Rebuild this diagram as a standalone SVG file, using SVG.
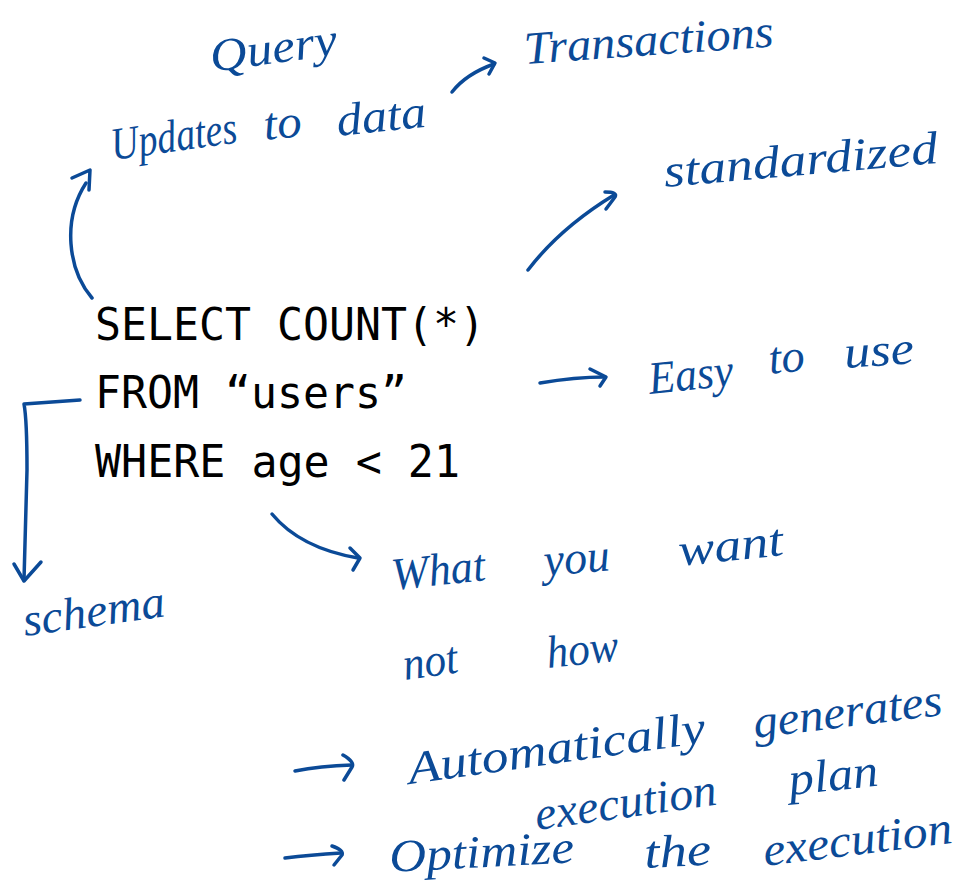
<svg xmlns="http://www.w3.org/2000/svg" width="965" height="896" viewBox="0 0 965 896">
  <style>
    .code { font-family: "DejaVu Sans Mono", "Liberation Mono", monospace; font-size: 44px; fill: #000; }
    .hand { font-family: "Liberation Serif", "DejaVu Serif", serif; font-style: italic; font-size: 46px; fill: #0b4a97; }
    .ink { fill: none; stroke: #0b4a97; stroke-width: 3.5; stroke-linecap: round; stroke-linejoin: round; }
  </style>
  <rect width="965" height="896" fill="#ffffff"/>

  <!-- SQL statement -->
  <g id="sql">
    <text class="code" x="95" y="340" textLength="390" lengthAdjust="spacingAndGlyphs">SELECT COUNT(*)</text>
    <text class="code" x="95" y="408" textLength="312" lengthAdjust="spacingAndGlyphs">FROM “users”</text>
    <text class="code" x="95" y="477" textLength="365" lengthAdjust="spacingAndGlyphs">WHERE age &lt; 21</text>
  </g>

  <!-- annotations -->
  <g id="query">
    <text class="hand" x="212" y="72" textLength="128" lengthAdjust="spacingAndGlyphs" transform="rotate(-8 212 72)">Query</text>
  </g>
  <g id="updates">
    <text class="hand" x="113" y="160" textLength="127" lengthAdjust="spacingAndGlyphs" transform="rotate(-8 113 160)">Updates</text>
    <text class="hand" x="265" y="140" textLength="38" lengthAdjust="spacingAndGlyphs" transform="rotate(-6 265 140)">to</text>
    <text class="hand" x="338" y="136" textLength="90" lengthAdjust="spacingAndGlyphs" transform="rotate(-6 338 136)">data</text>
  </g>
  <g id="transactions">
    <text class="hand" x="525" y="64" textLength="250" lengthAdjust="spacingAndGlyphs" transform="rotate(-4 525 64)">Transactions</text>
  </g>
  <g id="standardized">
    <text class="hand" x="665" y="187" textLength="275" lengthAdjust="spacingAndGlyphs" transform="rotate(-5 665 187)">standardized</text>
  </g>
  <g id="easy">
    <text class="hand" x="650" y="394" textLength="85" lengthAdjust="spacingAndGlyphs" transform="rotate(-6 650 394)">Easy</text>
    <text class="hand" x="770" y="374" textLength="36" lengthAdjust="spacingAndGlyphs" transform="rotate(-6 770 374)">to</text>
    <text class="hand" x="845" y="368" textLength="70" lengthAdjust="spacingAndGlyphs" transform="rotate(-4 845 368)">use</text>
  </g>
  <g id="schema">
    <text class="hand" x="25" y="636" textLength="143" lengthAdjust="spacingAndGlyphs" transform="rotate(-8 25 636)">schema</text>
  </g>
  <g id="what">
    <text class="hand" x="393" y="590" textLength="94" lengthAdjust="spacingAndGlyphs" transform="rotate(-6 393 590)">What</text>
    <text class="hand" x="545" y="576" textLength="66" lengthAdjust="spacingAndGlyphs" transform="rotate(-5 545 576)">you</text>
    <text class="hand" x="680" y="566" textLength="105" lengthAdjust="spacingAndGlyphs" transform="rotate(-6 680 566)">want</text>
    <text class="hand" x="405" y="680" textLength="55" lengthAdjust="spacingAndGlyphs" transform="rotate(-8 405 680)">not</text>
    <text class="hand" x="548" y="668" textLength="72" lengthAdjust="spacingAndGlyphs" transform="rotate(-6 548 668)">how</text>
  </g>
  <g id="plan">
    <text class="hand" x="410" y="784" textLength="300" lengthAdjust="spacingAndGlyphs" transform="rotate(-8 410 784)">Automatically</text>
    <text class="hand" x="755" y="738" textLength="190" lengthAdjust="spacingAndGlyphs" transform="rotate(-7 755 738)">generates</text>
    <text class="hand" x="537" y="830" textLength="183" lengthAdjust="spacingAndGlyphs" transform="rotate(-8 537 830)">execution</text>
    <text class="hand" x="790" y="795" textLength="90" lengthAdjust="spacingAndGlyphs" transform="rotate(-6 790 795)">plan</text>
  </g>
  <g id="optimize">
    <text class="hand" x="390" y="872" textLength="185" lengthAdjust="spacingAndGlyphs" transform="rotate(-3 390 872)">Optimize</text>
    <text class="hand" x="645" y="868" textLength="67" lengthAdjust="spacingAndGlyphs" transform="rotate(-3 645 868)">the</text>
    <text class="hand" x="765" y="866" textLength="190" lengthAdjust="spacingAndGlyphs" transform="rotate(-7 765 866)">execution</text>
  </g>

  <!-- connectors -->
  <g id="connectors">
    <!-- to Updates -->
    <path class="ink" d="M92 298 C68 270 62 220 86 183"/>
    <path class="ink" d="M72 178 L90 170 L89 190"/>
    <!-- to Transactions -->
    <path class="ink" d="M452 92 Q466 74 494 64"/>
    <path class="ink" d="M484 58 L495 63 L489 74"/>
    <!-- to standardized -->
    <path class="ink" d="M528 270 Q560 228 614 195"/>
    <path class="ink" d="M605 192 Q618 192 615 197 L606 209"/>
    <!-- to Easy to use -->
    <path class="ink" d="M540 383 Q575 377 605 377"/>
    <path class="ink" d="M590 369 L606 377 L600 386"/>
    <!-- to schema -->
    <path class="ink" d="M80 400 L24 404 Q27 420 27 470 L24 580"/>
    <path class="ink" d="M14 564 L24 581 L41 562"/>
    <!-- to What you want -->
    <path class="ink" d="M272 514 Q300 548 358 558"/>
    <path class="ink" d="M350 548 L360 558 L353 570"/>
    <!-- to Automatically -->
    <path class="ink" d="M295 771 Q320 766 352 765"/>
    <path class="ink" d="M343 755 Q355 762 352 767 L344 780"/>
    <!-- to Optimize -->
    <path class="ink" d="M285 858 Q310 855 341 853"/>
    <path class="ink" d="M332 846 Q344 850 342 855 L334 865"/>
  </g>
</svg>
